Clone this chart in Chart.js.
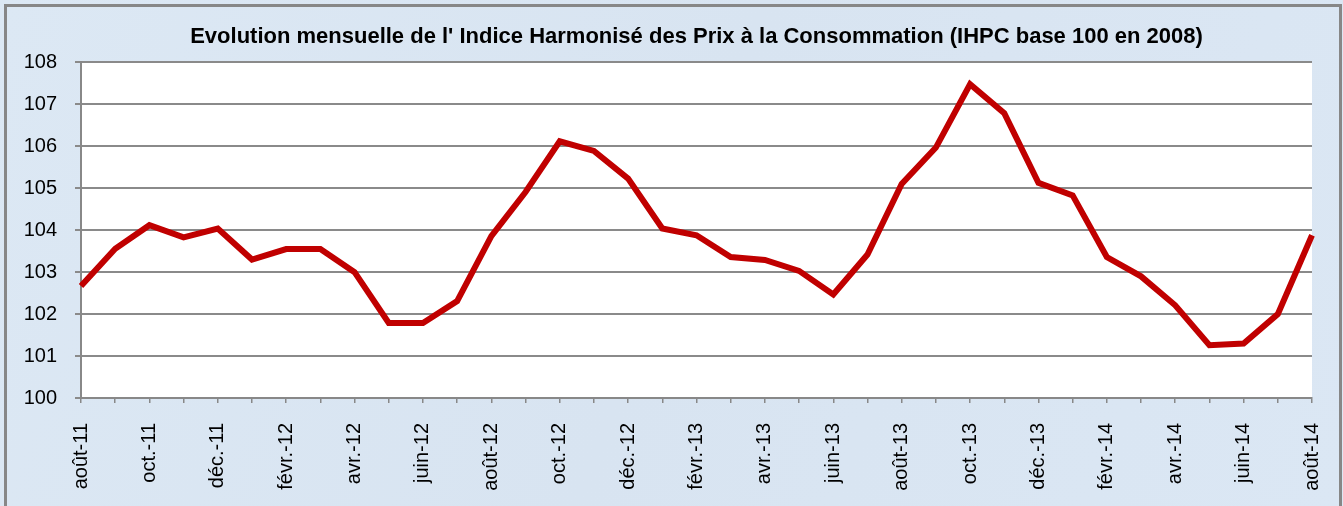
<!DOCTYPE html>
<html lang="fr">
<head>
<meta charset="utf-8">
<script src="https://cdn.jsdelivr.net/npm/chart.js@4/dist/chart.umd.min.js"></script>
<style>
  html, body { margin: 0; padding: 0; background: #dae6f3; }
  #wrap { width: 1343px; height: 506px; position: relative; }
</style>
</head>
<body>
<div id="wrap"><canvas id="ihpc" width="1343" height="506"></canvas></div>
<script>
// --- données ---
const mois = [
  "août-11", "sept.-11", "oct.-11", "nov.-11", "déc.-11", "janv.-12", "févr.-12", "mars-12",
  "avr.-12", "mai-12", "juin-12", "juil.-12", "août-12", "sept.-12", "oct.-12", "nov.-12",
  "déc.-12", "janv.-13", "févr.-13", "mars-13", "avr.-13", "mai-13", "juin-13", "juil.-13",
  "août-13", "sept.-13", "oct.-13", "nov.-13", "déc.-13", "janv.-14", "févr.-14", "mars-14",
  "avr.-14", "mai-14", "juin-14", "juil.-14", "août-14"
];
const ihpc = [
  102.67, 103.56, 104.12, 103.83, 104.04, 103.30, 103.55, 103.55,
  103.00, 101.79, 101.79, 102.31, 103.86, 104.91, 106.12, 105.89,
  105.23, 104.04, 103.88, 103.36, 103.29, 103.03, 102.47, 103.42,
  105.10, 105.97, 107.48, 106.79, 105.13, 104.83, 103.36, 102.90,
  102.21, 101.26, 101.30, 102.00, 103.88
];
const yMin = 100;
const yMax = 108;
const titre = "Evolution mensuelle de l' Indice Harmonisé des Prix à la Consommation (IHPC base 100 en 2008)";

const police = "Liberation Sans, Arial, sans-serif";

// fond bleuté, cadre gris et zone de tracé blanche
const fondPlugin = {
  id: "fond",
  beforeDraw(chart) {
    const { ctx, chartArea: a, width, height } = chart;
    ctx.save();
    const g = ctx.createLinearGradient(0, 0, width, height);
    g.addColorStop(0, "#dce8f4");
    g.addColorStop(0.5, "#d8e4f1");
    g.addColorStop(1, "#dbe7f4");
    ctx.fillStyle = g;
    ctx.fillRect(0, 0, width, height);
    ctx.strokeStyle = "#878787";
    ctx.lineWidth = 3;
    ctx.strokeRect(5.5, 5.5, width - 8, height + 20);
    ctx.fillStyle = "#ffffff";
    ctx.fillRect(a.left, a.top, a.right - a.left, a.bottom - a.top);
    ctx.restore();
  }
};

const ctx = document.getElementById("ihpc").getContext("2d");
new Chart(ctx, {
  type: "line",
  data: {
    labels: mois,
    datasets: [{
      data: ihpc,
      borderColor: "#c00000",
      borderWidth: 6,
      pointRadius: 0,
      tension: 0,
      fill: false
    }]
  },
  options: {
    responsive: false,
    animation: false,
    layout: { padding: { left: 21, right: 31, top: 8, bottom: 0 } },
    plugins: {
      legend: { display: false },
      tooltip: { enabled: false },
      title: {
        display: true,
        text: titre,
        color: "#000",
        fullSize: false,
        font: { family: police, size: 22, weight: "bold" },
        padding: { top: 16, bottom: 12 }
      }
    },
    scales: {
      x: {
        offset: false,
        grid: { drawOnChartArea: false, drawTicks: true, tickLength: 5, color: "#888", lineWidth: 1.5 },
        border: { color: "#888", width: 2 },
        ticks: {
          autoSkip: false,
          minRotation: 90,
          maxRotation: 90,
          padding: 20,
          color: "#000",
          font: { family: police, size: 20 },
          callback: (v, i) => (i % 2 === 0 ? mois[i] : "")
        },
        afterFit: (s) => {
          s.height = 108;
          s.paddingLeft = 0;
          s.paddingRight = 0;
        }
      },
      y: {
        min: yMin,
        max: yMax,
        grid: { color: "#8a8a8a", lineWidth: 2, tickLength: 6 },
        border: { color: "#888", width: 2 },
        ticks: {
          stepSize: 1,
          padding: 18,
          color: "#000",
          font: { family: police, size: 20 }
        },
        afterFit: (s) => { s.width = 60; }
      }
    }
  },
  plugins: [fondPlugin]
});
</script>
</body>
</html>
